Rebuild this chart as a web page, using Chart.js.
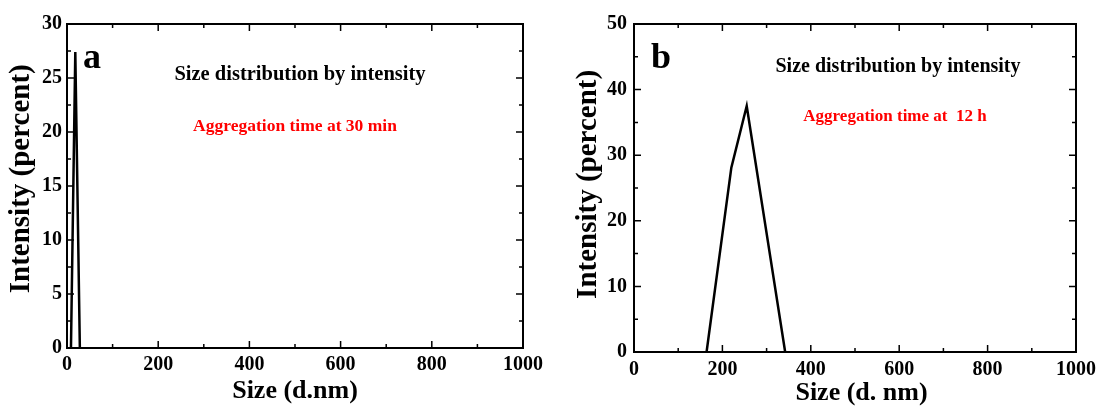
<!DOCTYPE html>
<html>
<head>
<meta charset="utf-8">
<script src="https://cdn.jsdelivr.net/npm/chart.js@4.4.1/dist/chart.umd.min.js"></script>
<style>
  html, body { margin: 0; padding: 0; background: #fff; }
  #wrap { position: relative; width: 1102px; height: 409px; }
  canvas { position: absolute; top: 0; }
</style>
</head>
<body>
<div id="wrap">
  <canvas id="chartA" width="551" height="409" style="left:0"></canvas>
  <canvas id="chartB" width="551" height="409" style="left:551px"></canvas>
</div>
<script>
// panel a: 30 min
const sizesA = [8.7, 18.2, 28.2];
const intensityA = [0, 27.4, 0];
// panel b: 12 h
const sizesB = [164.2, 220.2, 255.0, 342.0];
const intensityB = [0, 28.1, 37.5, 0];

const xTicks = [0, 200, 400, 600, 800, 1000];
const yTicksA = [0, 5, 10, 15, 20, 25, 30];
const yTicksB = [0, 10, 20, 30, 40, 50];

const SERIF = '"Liberation Serif", "Times New Roman", serif';

function toPoints(xs, ys) {
    return xs.map(function (x, i) { return { x: x, y: ys[i] }; });
}

// frame plus inward major/minor ticks on all four sides
const framePlugin = {
    id: 'frame',
    afterDraw: function (chart) {
        const ctx = chart.ctx;
        const a = chart.chartArea;
        const xs = chart.scales.x, ys = chart.scales.y;
        const o = chart.options.plugins.frame;
        ctx.save();
        ctx.strokeStyle = '#000';
        ctx.lineWidth = 2;
        ctx.strokeRect(a.left, a.top, a.right - a.left, a.bottom - a.top);
        ctx.lineWidth = 1.5;
        ctx.beginPath();
        for (let v = xs.min; v <= xs.max + 1e-6; v += o.xMinor) {
            const px = xs.getPixelForValue(v);
            const len = Math.abs(v % o.xMajor) < 1e-6 ? 7 : 4;
            ctx.moveTo(px, a.bottom); ctx.lineTo(px, a.bottom - len);
            ctx.moveTo(px, a.top); ctx.lineTo(px, a.top + len);
        }
        for (let v = ys.min; v <= ys.max + 1e-6; v += o.yMinor) {
            const py = ys.getPixelForValue(v);
            const len = Math.abs(v % o.yMajor) < 1e-6 ? 7 : 4;
            ctx.moveTo(a.left, py); ctx.lineTo(a.left + len, py);
            ctx.moveTo(a.right, py); ctx.lineTo(a.right - len, py);
        }
        ctx.stroke();

        // text notes
        ctx.textBaseline = 'alphabetic';
        ctx.textAlign = 'center';
        o.notes.forEach(function (n) {
            ctx.fillStyle = n.color;
            ctx.font = 'bold ' + n.size + 'px ' + SERIF;
            ctx.fillText(n.text, n.x, n.y);
        });
        ctx.restore();
    }
};

function makeChart(id, xs, ys, yMax, yStep, o) {
    const tickFont = { family: SERIF, size: 20, weight: 'bold' };
    return new Chart(document.getElementById(id), {
        type: 'line',
        data: {
            datasets: [{
                data: toPoints(xs, ys),
                borderColor: '#000',
                borderWidth: 2.5,
                pointRadius: 0,
                tension: 0,
                fill: false
            }]
        },
        options: {
            responsive: false,
            animation: false,
            devicePixelRatio: 1,
            layout: { padding: { left: 0, top: 24, right: o.padRight, bottom: 0 } },
            scales: {
                x: {
                    type: 'linear',
                    min: 0,
                    max: 1000,
                    grid: { display: false, drawTicks: false },
                    border: { display: false },
                    ticks: {
                        stepSize: 200, padding: o.xTickPad, color: '#000', font: tickFont, maxRotation: 0,
                        callback: function (v) { return String(v); }
                    },
                    title: {
                        display: true, text: o.xTitle, color: '#000',
                        font: { family: SERIF, size: 26, weight: 'bold' },
                        padding: { top: 0, bottom: o.xTitlePad }
                    },
                    afterFit: function (s) { s.height = o.xHeight; }
                },
                y: {
                    min: 0,
                    max: yMax,
                    grid: { display: false, drawTicks: false },
                    border: { display: false },
                    ticks: {
                        stepSize: yStep, padding: o.yTickPad, color: '#000', font: tickFont,
                        callback: function (v) { return String(v); }
                    },
                    title: {
                        display: true, text: o.yTitle, color: '#000',
                        font: { family: SERIF, size: 29, weight: 'bold' },
                        padding: { top: o.yTitlePad, bottom: 0 }
                    },
                    afterFit: function (s) { s.width = o.yWidth; }
                }
            },
            plugins: {
                legend: { display: false },
                tooltip: { enabled: false },
                frame: {
                    xMajor: 200, xMinor: 100,
                    yMajor: yStep, yMinor: yStep / 2,
                    notes: o.notes
                }
            }
        },
        plugins: [framePlugin]
    });
}

makeChart('chartA', sizesA, intensityA, 30, 5, {
    padRight: 28, yWidth: 67, xHeight: 61,
    xTickPad: 5, yTickPad: 5, xTitlePad: 2, yTitlePad: 4,
    xTitle: 'Size (d.nm)',
    yTitle: '  Intensity (percent)',
    notes: [
        { text: 'a', x: 92, y: 68, size: 36, color: '#000' },
        { text: 'Size distribution by intensity', x: 300, y: 80, size: 20.5, color: '#000' },
        { text: 'Aggregation time at 30 min', x: 295, y: 131, size: 17.5, color: '#ff0000' }
    ]
});

makeChart('chartB', sizesB, intensityB, 50, 10, {
    padRight: 24, yWidth: 83, xHeight: 57,
    xTickPad: 6, yTickPad: 7, xTitlePad: 0, yTitlePad: 20,
    xTitle: '  Size (d. nm)',
    yTitle: ' Intensity (percent)',
    notes: [
        { text: 'b', x: 110, y: 68, size: 36, color: '#000' },
        { text: 'Size distribution by intensity', x: 347, y: 72, size: 20, color: '#000' },
        { text: 'Aggregation time at  12 h', x: 344, y: 121, size: 17, color: '#ff0000' }
    ]
});
</script>
</body>
</html>
